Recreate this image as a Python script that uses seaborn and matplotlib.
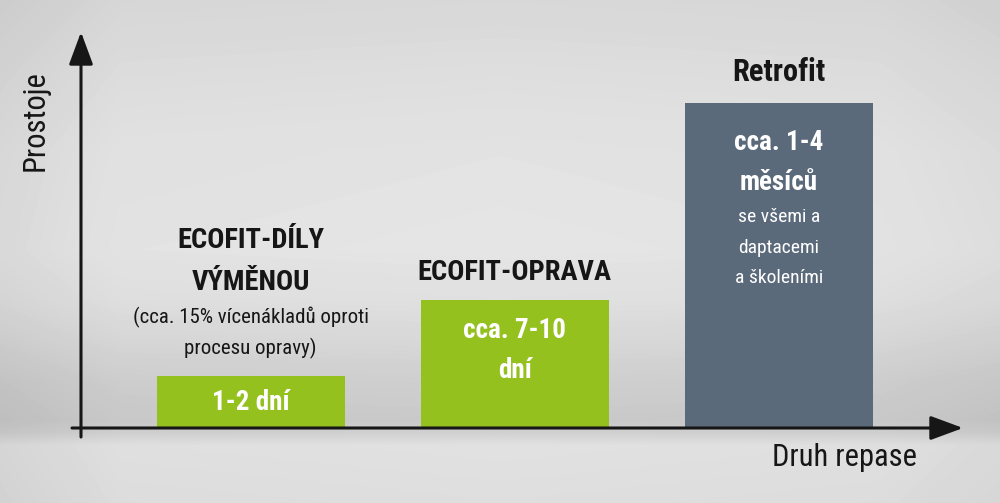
import numpy as np
import matplotlib
matplotlib.use("Agg")
import matplotlib.pyplot as plt
import seaborn as sns

# categories and relative downtime (bar heights, arbitrary units)
CATEGORIES = ["ECOFIT-DÍLY VÝMĚNOU", "ECOFIT-OPRAVA", "Retrofit"]
DOWNTIME = [52, 128, 325]
BAR_COLORS = ["#95c11f", "#95c11f", "#5b6a7b"]

# text above each bar: (bold title lines, regular note lines)
TITLES = [["ECOFIT-DÍLY", "VÝMĚNOU"], ["ECOFIT-OPRAVA"], ["Retrofit"]]
NOTES = [["(cca. 15% vícenákladů oproti", "procesu opravy)"], [], []]
# text inside each bar: (bold lines, regular lines)
INSIDE_BOLD = [["1-2 dní"], ["cca. 7-10", "dní"], ["cca. 1-4", "měsíců"]]
INSIDE_REG = [[], [], ["se všemi a", "daptacemi", "a školeními"]]

X_LABEL = "Druh repase"
Y_LABEL = "Prostoje"

sns.set_theme(style="white")
plt.rcParams["font.family"] = ["Roboto Condensed", "Roboto", "DejaVu Sans"]

W, H = 1000, 503
fig = plt.figure(figsize=(W / 100, H / 100), dpi=100)

# concrete-like background: vertical gray gradient, darker band above the axis
bg = fig.add_axes([0, 0, 1, 1], zorder=0)
stops_y = [0, 60, 150, 250, 300, 340, 380, 420, 432, 445, 503]
stops_v = [214, 219, 225, 227, 222, 214, 205, 200, 206, 223, 220]
col = np.interp(np.arange(H), stops_y, stops_v)
row = np.interp(np.arange(W), [0, 120, 500, 880, 1000], [-10, 0, 2, 0, -6])
img = (col[:, None] + row[None, :]) / 255.0
bg.imshow(np.clip(img, 0, 1), cmap="gray", vmin=0, vmax=1, aspect="auto",
          extent=[0, 1, 0, 1], interpolation="bilinear")
bg.axis("off")

# plot area: from y-axis (x=81px) to arrow tip (963px), axis at 428px, top 32px
left, right, base, top = 81, 963, 428, 32
ax = fig.add_axes([left / W, (H - base) / H, (right - left) / W, (base - top) / H],
                  zorder=1)
ax.patch.set_alpha(0)

sns.barplot(x=CATEGORIES, y=DOWNTIME, hue=CATEGORIES, palette=BAR_COLORS,
            legend=False, width=0.712, saturation=1, linewidth=0, ax=ax)
ax.set_xlim(-0.642, 2.697)
ax.set_ylim(0, base - top)
ax.set_xticks([])
ax.set_yticks([])
for s in ax.spines.values():
    s.set_visible(False)

dark = "#161616"
# axes with arrow heads
arrow = dict(arrowstyle="-|>,head_length=1.0,head_width=0.37", lw=2.2,
             color=dark, mutation_scale=20, shrinkA=0, shrinkB=0)
ax.annotate("", xy=(1.0, 0), xytext=(-9 / 882, 0), xycoords="axes fraction",
            arrowprops=arrow, annotation_clip=False)
ax.annotate("", xy=(0, 1.0), xytext=(0, -9 / 396), xycoords="axes fraction",
            arrowprops=arrow, annotation_clip=False)

ax.set_ylabel(Y_LABEL, fontsize=22, color=dark, labelpad=0)
ax.yaxis.set_label_coords((50 - left) / 882, (base - 121) / 396)
ax.set_xlabel(X_LABEL, fontsize=22, color=dark, labelpad=0)
ax.xaxis.set_label_coords((845 - left) / 882, (base - 457) / 396)
ax.xaxis.label.set_verticalalignment("center")

# label positions in data units (pixels above the axis)
title_y = [[188, 146], [156], [356]]
title_size = [20.5, 20.5, 22]
note_y = [[111, 80], [], []]
in_bold_y = [[25], [98, 58], [286, 246]]
in_reg_y = [[], [], [211, 180, 150]]

for i in range(len(CATEGORIES)):
    for txt, y in zip(TITLES[i], title_y[i]):
        ax.text(i, y, txt, ha="center", va="center", fontsize=title_size[i],
                fontweight="bold", color=dark)
    for txt, y in zip(NOTES[i], note_y[i]):
        ax.text(i, y, txt, ha="center", va="center", fontsize=15, color=dark)
    for txt, y in zip(INSIDE_BOLD[i], in_bold_y[i]):
        ax.text(i, y, txt, ha="center", va="center", fontsize=19.5,
                fontweight="bold", color="white")
    for txt, y in zip(INSIDE_REG[i], in_reg_y[i]):
        ax.text(i, y, txt, ha="center", va="center", fontsize=14, color="white")

fig.savefig("out.png", dpi=100)
